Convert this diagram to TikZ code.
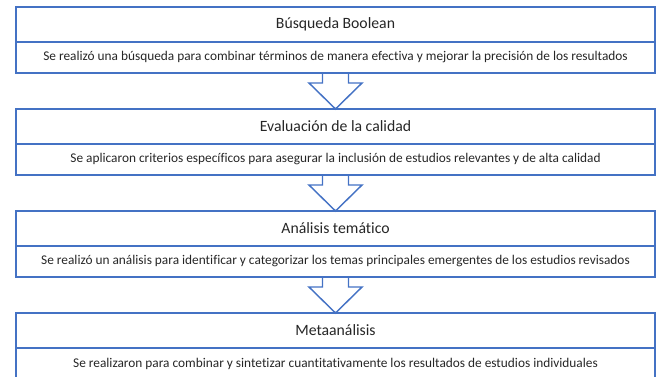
\documentclass[tikz,border=0pt]{standalone}
\usepackage{fontspec}
\setmainfont{Carlito}[Ligatures=NoCommon]
\usetikzlibrary{positioning}
\definecolor{boxblue}{HTML}{4472C4}

\begin{document}
\begin{tikzpicture}[
            x=0.75pt, y=-0.75pt,
            every node/.style={align=center, text=black!85},
            stagetitle/.style={draw=boxblue, line width=1.1pt, rectangle, minimum width=479.25pt, minimum height=26.25pt, inner sep=0pt, outer sep=0pt, font=\fontsize{11.8}{14}\selectfont},
            stagetext/.style={draw=boxblue, line width=1.1pt, rectangle, minimum width=479.25pt, minimum height=23.25pt, inner sep=0pt, outer sep=0pt, font=\fontsize{10}{12}\selectfont},
            hollow/.style={draw=boxblue, line width=1.1pt, line join=miter},
            node distance = 27pt
  ]

  \useasboundingbox (0,0) rectangle (656,376);
  \clip (0,0) rectangle (656,376);

  \node[stagetitle] (boolean) at (335.5,24.5) {Búsqueda Boolean};
  \node[stagetext] (booleantxt) [below=0pt of boolean] {Se realizó una búsqueda para combinar términos de manera efectiva y mejorar la precisión de los resultados};
  \node[stagetitle] (calidad) [below=of booleantxt] {Evaluación de la calidad};
  \node[stagetext] (calidadtxt) [below=0pt of calidad] {Se aplicaron criterios específicos para asegurar la inclusión de estudios relevantes y de alta calidad};
  \node[stagetitle] (tematico) [below=of calidadtxt] {Análisis temático};
  \node[stagetext] (tematicotxt) [below=0pt of tematico] {Se realizó un análisis para identificar y categorizar los temas principales emergentes de los estudios revisados};
  \node[stagetitle] (meta) [below=of tematicotxt] {Metaanálisis};
  \node[stagetext] (metatxt) [below=0pt of meta] {Se realizaron para combinar y sintetizar cuantitativamente los resultados de estudios individuales};

  \draw[hollow] ([xshift=-9.75pt]booleantxt.south) -- ++(0,10) -- ++(-13.5,0) -- (calidad.north) -- ++(26.5,-26) -- ++(-13.5,0) -- ([xshift=9.75pt]booleantxt.south);
  \draw[hollow] ([xshift=-9.75pt]calidadtxt.south) -- ++(0,10) -- ++(-13.5,0) -- (tematico.north) -- ++(26.5,-26) -- ++(-13.5,0) -- ([xshift=9.75pt]calidadtxt.south);
  \draw[hollow] ([xshift=-9.75pt]tematicotxt.south) -- ++(0,10) -- ++(-13.5,0) -- (meta.north) -- ++(26.5,-26) -- ++(-13.5,0) -- ([xshift=9.75pt]tematicotxt.south);

\end{tikzpicture}
\end{document}
